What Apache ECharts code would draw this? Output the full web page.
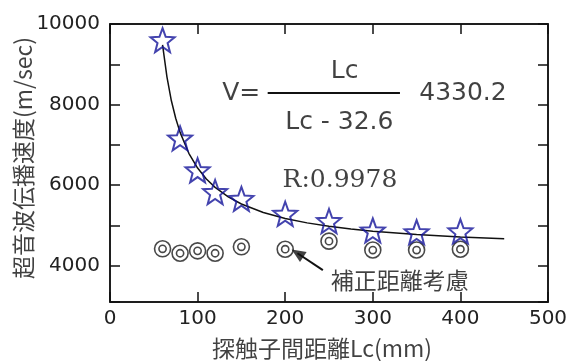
<!DOCTYPE html>
<html>
<head>
<meta charset="utf-8">
<script src="https://cdn.jsdelivr.net/npm/echarts@6/dist/echarts.min.js"></script>
<style>
  html, body { margin: 0; padding: 0; background: #fff; }
  #chart { width: 577px; height: 361px; }
</style>
</head>
<body>
<div id="chart"></div>
<script>
// Probe spacing Lc (mm) and measured ultrasonic velocity (m/sec)
const lcMm = [60, 80, 100, 120, 150, 200, 250, 300, 350, 400];
const velocityMeasured = [9600, 7160, 6370, 5830, 5660, 5290, 5110, 4876, 4833, 4855];
// Velocity with the corrected distance taken into account
const velocityCorrected = [4420, 4310, 4370, 4310, 4470, 4410, 4610, 4390, 4390, 4410];

// Fitted curve V = Lc / (Lc - 32.6) * 4330.2, sampled points
const fitLc = [60, 65, 70, 75, 80, 90, 100, 110, 120, 135, 150, 175, 200, 225, 250, 275, 300, 350, 400, 450];
const fitVelocity = [9480, 8690, 8100, 7660, 7310, 6790, 6425, 6154, 5945, 5708, 5532, 5321, 5174, 5064, 4980, 4913, 4858, 4775, 4714, 4668];

// Axis ranges and tick steps
const xRange = [0, 500];
const xMajorStep = 100;
const yRange = [3100, 10000];
const yLabelStep = 2000;

// Annotation arrow (data coordinates): tail, then the head position
const noteArrowShaft = [[243, 3893], [214, 4310]];
const noteArrowHead = [[214, 4310]];
const noteArrowAngle = 56.5;

// Text anchors in data coordinates (left edge / vertical middle of each text)
const formulaAnchors = {
  lhs: [128, 8287],
  numerator: [252, 8809],
  denominator: [200, 7543],
  factor: [353, 8287],
  corr: [197, 6128]
};
const fractionBar = [[180, 8287], [331, 8287]];
const noteAnchor = [252, 3646];
const xTitleAnchor = [242, 1958];
const yTitleAnchor = [-99, 6674];

const numFont = 'DejaVu Sans';
const cjkFont = 'Noto Sans CJK JP';
const ink = '#111';

// Five-pointed star outline used for the measured points
function starPath() {
  const pts = [];
  for (let i = 0; i < 10; i++) {
    const r = i % 2 === 0 ? 10 : 4.2;
    const a = -Math.PI / 2 + i * Math.PI / 5;
    pts.push((r * Math.cos(a)).toFixed(2) + ',' + (r * Math.sin(a)).toFixed(2));
  }
  return 'path://M' + pts.join('L') + 'Z';
}
const ringPath = 'path://M0,-8A8,8,0,1,1,0,8A8,8,0,1,1,0,-8ZM0,-3.6A3.6,3.6,0,1,1,0,3.6A3.6,3.6,0,1,1,0,-3.6Z';

const chart = echarts.init(document.getElementById('chart'), null, { renderer: 'canvas' });

const frame = () => ({ color: ink, width: 1.5 });

function xAxisDef(position, withLabels) {
  return {
    type: 'value', position, min: xRange[0], max: xRange[1], interval: xMajorStep,
    axisLine: { show: true, onZero: false, lineStyle: frame() },
    axisTick: { show: true, inside: true, length: 10, lineStyle: frame() },
    splitLine: { show: false },
    axisLabel: withLabels
      ? { show: true, margin: 7, fontFamily: numFont, fontSize: 20, color: '#222', formatter: v => String(v) }
      : { show: false }
  };
}

function yAxisDef(position, withLabels) {
  return {
    type: 'value', position, min: yRange[0], max: yRange[1],
    axisLine: { show: true, onZero: false, lineStyle: frame() },
    axisTick: { show: true, inside: true, length: 10, lineStyle: frame() },
    splitLine: { show: false },
    axisLabel: withLabels
      ? { show: true, margin: 10, fontFamily: numFont, fontSize: 20, color: '#222',
          formatter: v => (v % yLabelStep === 0 ? String(v) : '') }
      : { show: false }
  };
}

// One text item placed at a data anchor
function textItem(anchor, text, font, size, extra) {
  return {
    value: anchor,
    label: Object.assign({
      show: true, position: 'inside', align: 'left', verticalAlign: 'middle',
      formatter: text, fontFamily: font, fontSize: size, fontWeight: 'normal', color: ink
    }, extra || {})
  };
}

chart.setOption({
  backgroundColor: '#fff',
  animation: false,
  grid: { left: 110, right: 29, top: 24, bottom: 59, show: true,
    borderColor: ink, borderWidth: 1.5, backgroundColor: 'rgba(0,0,0,0)' },
  xAxis: [ xAxisDef('bottom', true), xAxisDef('top', false) ],
  yAxis: [ yAxisDef('left', true), yAxisDef('right', false) ],
  series: [
    {
      name: 'fit', type: 'line',
      data: fitLc.map((x, i) => [x, fitVelocity[i]]),
      showSymbol: false, smooth: false,
      lineStyle: { color: ink, width: 1.5 }, z: 2
    },
    {
      name: 'measured', type: 'scatter',
      data: lcMm.map((x, i) => [x, velocityMeasured[i]]),
      symbol: starPath(), symbolSize: 24,
      itemStyle: { color: 'rgba(255,255,255,0)', borderColor: '#14149a', borderWidth: 2 }, z: 4
    },
    {
      name: 'corrected', type: 'scatter',
      data: lcMm.map((x, i) => [x, velocityCorrected[i]]),
      symbol: ringPath, symbolSize: 16,
      itemStyle: { color: 'rgba(255,255,255,0)', borderColor: '#1a1a1a', borderWidth: 1.6 }, z: 3
    },
    {
      name: 'note-shaft', type: 'line', data: noteArrowShaft,
      showSymbol: false, lineStyle: { color: ink, width: 2 }, z: 5
    },
    {
      name: 'note-head', type: 'scatter', data: noteArrowHead,
      symbol: 'triangle', symbolSize: [12, 14], symbolRotate: noteArrowAngle,
      itemStyle: { color: ink }, z: 5
    },
    {
      name: 'fraction-bar', type: 'line', data: fractionBar,
      showSymbol: false, lineStyle: { color: ink, width: 2 }, z: 5
    },
    {
      name: 'texts', type: 'scatter', clip: false, silent: true,
      symbol: 'circle', symbolSize: 1,
      itemStyle: { color: 'rgba(0,0,0,0)' }, z: 6,
      data: [
        textItem(formulaAnchors.lhs, 'V=', numFont, 25),
        textItem(formulaAnchors.numerator, 'Lc', numFont, 25),
        textItem(formulaAnchors.denominator, 'Lc - 32.6', numFont, 25),
        textItem(formulaAnchors.factor, '4330.2', numFont, 25),
        textItem(formulaAnchors.corr, 'R:0.9978', 'DejaVu Serif', 25),
        textItem(noteAnchor, '補正距離考慮', cjkFont, 23),
        textItem(xTitleAnchor, '探触子間距離Lc(mm)', cjkFont, 23, { align: 'center' }),
        textItem(yTitleAnchor, '超音波伝播速度(m/sec)', cjkFont, 23, { align: 'center', rotate: 90 })
      ]
    }
  ]
});
</script>
</body>
</html>
